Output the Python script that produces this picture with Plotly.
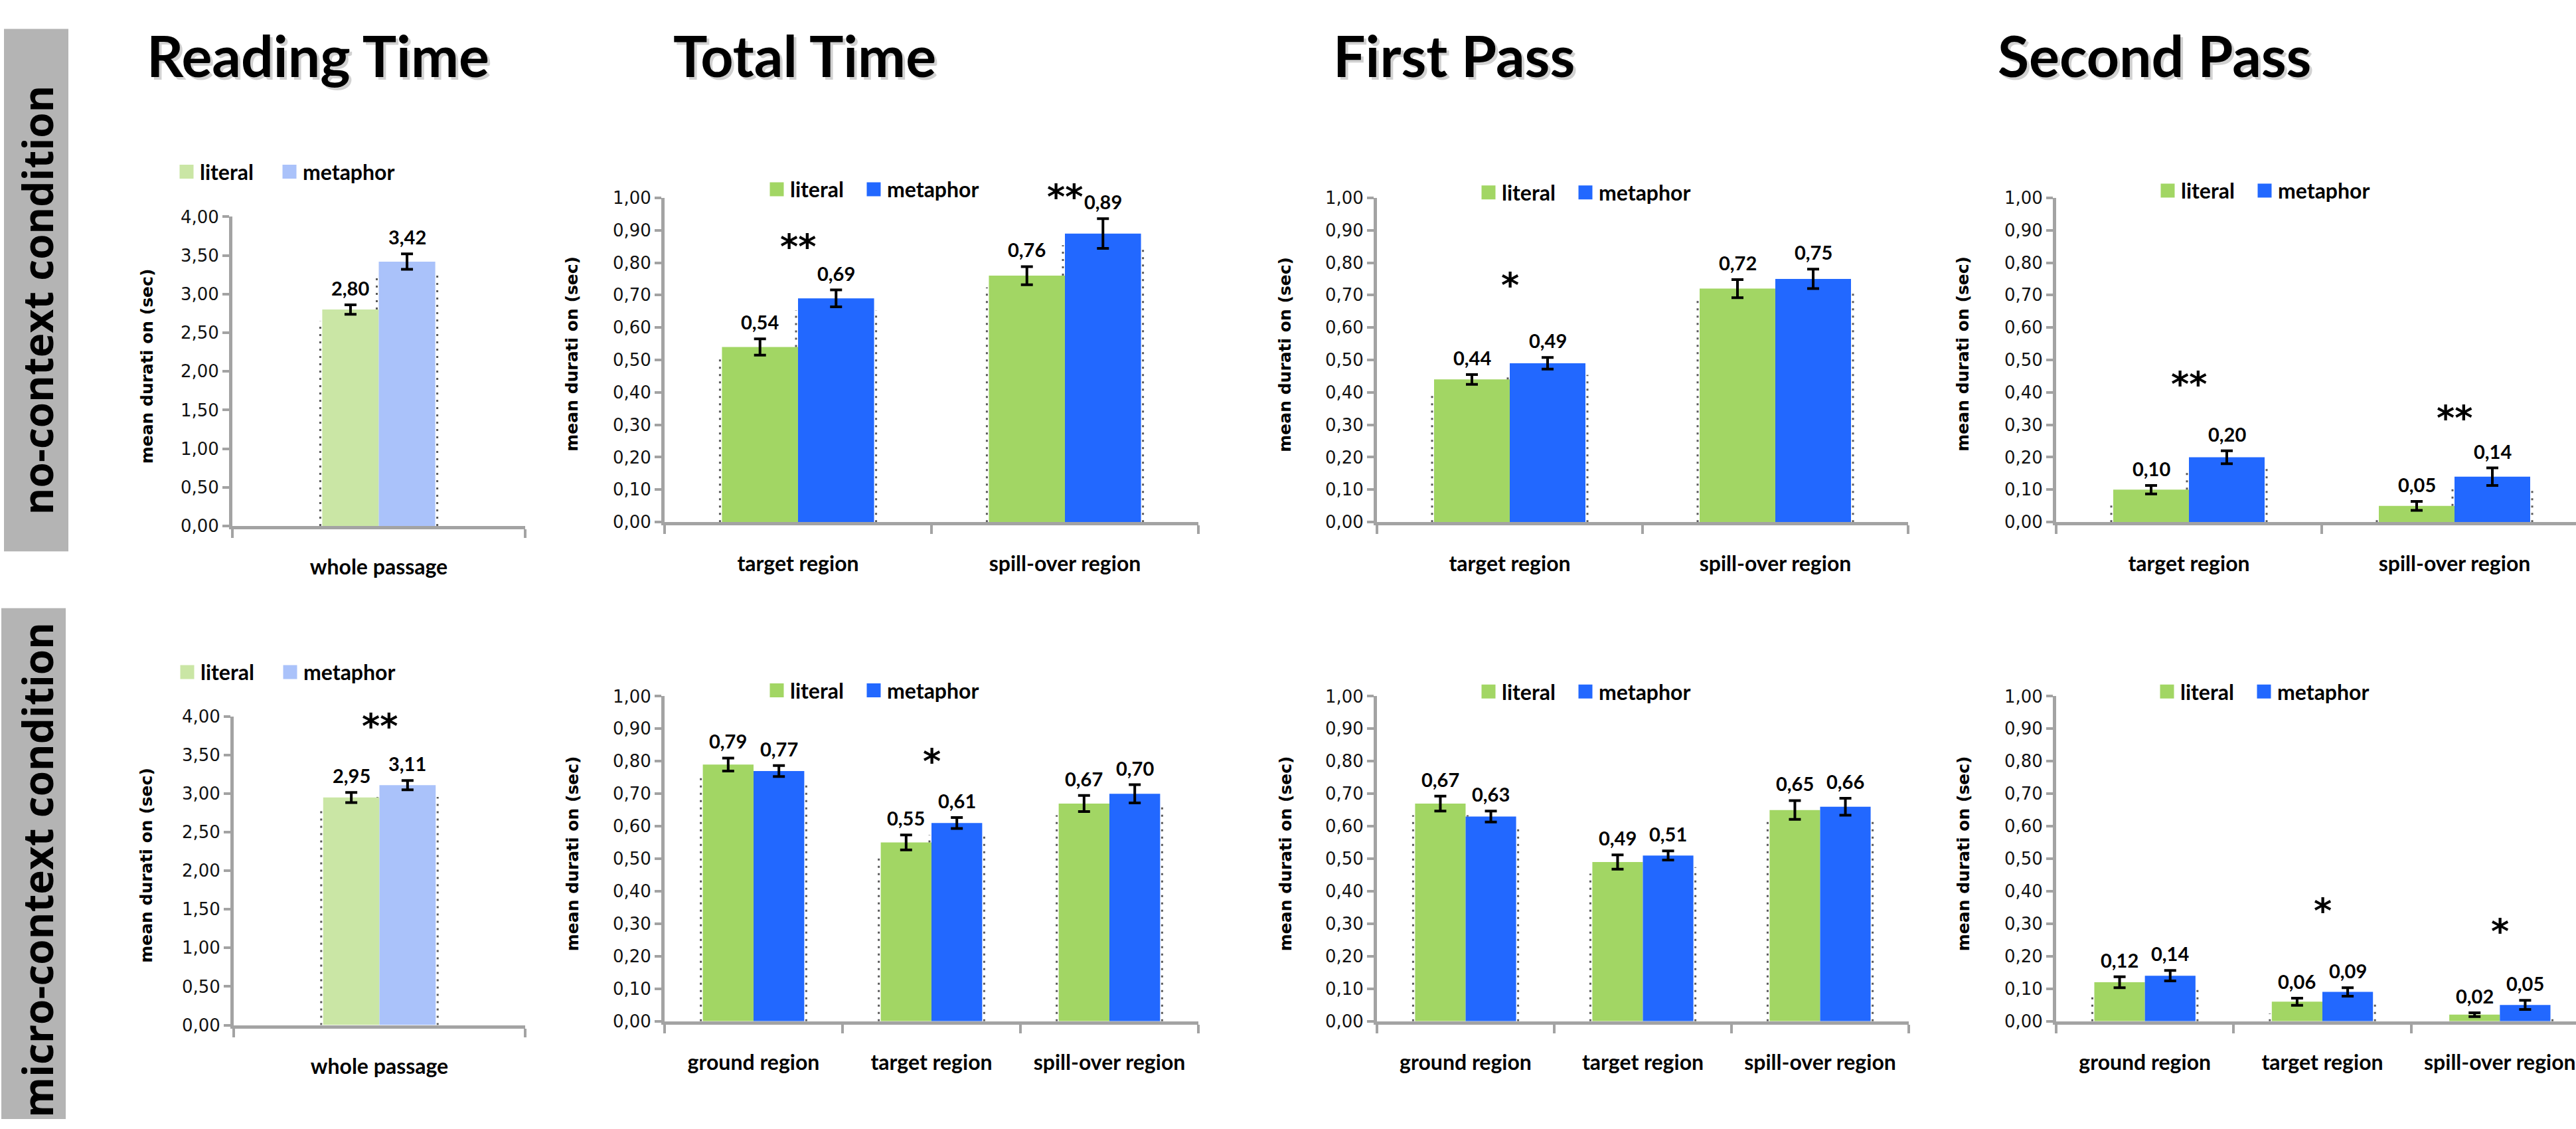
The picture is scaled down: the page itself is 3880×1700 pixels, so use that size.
import plotly.graph_objects as go

W, H = 3880, 1700

# ---------------- data ----------------
series_names = ["literal", "metaphor"]

rt_categories = ["whole passage"]
two_region_categories = ["target region", "spill-over region"]
three_region_categories = ["ground region", "target region", "spill-over region"]

# Reading Time (whole passage)
rt_nc_literal = [2.80]
rt_nc_metaphor = [3.42]
rt_nc_literal_err = [0.062]
rt_nc_metaphor_err = [0.100]
rt_mc_literal = [2.95]
rt_mc_metaphor = [3.11]
rt_mc_literal_err = [0.065]
rt_mc_metaphor_err = [0.060]

# Total Time
tt_nc_literal = [0.54, 0.76]
tt_nc_metaphor = [0.69, 0.89]
tt_nc_literal_err = [0.025, 0.028]
tt_nc_metaphor_err = [0.026, 0.046]
tt_mc_literal = [0.79, 0.55, 0.67]
tt_mc_metaphor = [0.77, 0.61, 0.70]
tt_mc_literal_err = [0.020, 0.023, 0.025]
tt_mc_metaphor_err = [0.017, 0.017, 0.028]

# First Pass
fp_nc_literal = [0.44, 0.72]
fp_nc_metaphor = [0.49, 0.75]
fp_nc_literal_err = [0.015, 0.028]
fp_nc_metaphor_err = [0.018, 0.030]
fp_mc_literal = [0.67, 0.49, 0.65]
fp_mc_metaphor = [0.63, 0.51, 0.66]
fp_mc_literal_err = [0.023, 0.022, 0.029]
fp_mc_metaphor_err = [0.017, 0.014, 0.026]

# Second Pass
sp_nc_literal = [0.10, 0.05]
sp_nc_metaphor = [0.20, 0.14]
sp_nc_literal_err = [0.013, 0.014]
sp_nc_metaphor_err = [0.020, 0.027]
sp_mc_literal = [0.12, 0.06, 0.02]
sp_mc_metaphor = [0.14, 0.09, 0.05]
sp_mc_literal_err = [0.017, 0.011, 0.006]
sp_mc_metaphor_err = [0.016, 0.013, 0.014]

# significance marks per panel: category index and label
rt_nc_sig = [(0, "**")]
rt_mc_sig = [(0, "**")]
tt_nc_sig = [(0, "**"), (1, "**")]
tt_mc_sig = [(1, "*")]
fp_nc_sig = [(0, "*")]
fp_mc_sig = []
sp_nc_sig = [(0, "**"), (1, "**")]
sp_mc_sig = [(1, "*"), (2, "*")]

column_titles = ["Reading Time", "Total Time", "First Pass", "Second Pass"]
row_labels = ["no-context condition", "micro-context condition"]
y_title = "mean durati on (sec)"

# ---------------- styles / layout ----------------
GRAY = "#a3a3a3"
GREEN = "#a2d664"
BLUE = "#2268ff"
GREEN_L = "#cae6a5"
BLUE_L = "#aac2fa"

TOP_Y = (288, 785)
BOT_Y = (1052, 1550)

panels = [
    dict(cats=rt_categories, lit=rt_nc_literal, met=rt_nc_metaphor, le=rt_nc_literal_err, me=rt_nc_metaphor_err,
         ymax=4.0, dtick=0.5, light=True, px=(350, 791), py=(317, 791), w=0.193,
         sig=rt_nc_sig, sig_y=[4.03], leg=(284, 248), pitch=155, ytitle=(221, 546)),
    dict(cats=two_region_categories, lit=tt_nc_literal, met=tt_nc_metaphor, le=tt_nc_literal_err, me=tt_nc_metaphor_err,
         ymax=1.0, dtick=0.1, light=False, px=(1001, 1805), py=TOP_Y, w=0.285,
         sig=tt_nc_sig, sig_y=[0.847, 1.0], leg=(1173, 275), pitch=146, ytitle=(862, 527)),
    dict(cats=two_region_categories, lit=fp_nc_literal, met=fp_nc_metaphor, le=fp_nc_literal_err, me=fp_nc_metaphor_err,
         ymax=1.0, dtick=0.1, light=False, px=(2074, 2874), py=TOP_Y, w=0.285,
         sig=fp_nc_sig, sig_y=[0.728], leg=(2245, 280), pitch=146, ytitle=(1936, 528)),
    dict(cats=two_region_categories, lit=sp_nc_literal, met=sp_nc_metaphor, le=sp_nc_literal_err, me=sp_nc_metaphor_err,
         ymax=1.0, dtick=0.1, light=False, px=(3097, 3897), py=TOP_Y, w=0.285,
         sig=sp_nc_sig, sig_y=[0.423, 0.318], leg=(3268, 277), pitch=146, ytitle=(2957, 527)),
    dict(cats=rt_categories, lit=rt_mc_literal, met=rt_mc_metaphor, le=rt_mc_literal_err, me=rt_mc_metaphor_err,
         ymax=4.0, dtick=0.5, light=True, px=(352, 791), py=(1083, 1556), w=0.193,
         sig=rt_mc_sig, sig_y=[3.86], leg=(285, 1015), pitch=155, ytitle=(221, 1311)),
    dict(cats=three_region_categories, lit=tt_mc_literal, met=tt_mc_metaphor, le=tt_mc_literal_err, me=tt_mc_metaphor_err,
         ymax=1.0, dtick=0.1, light=False, px=(1001, 1805), py=BOT_Y, w=0.285,
         sig=tt_mc_sig, sig_y=[0.796], leg=(1173, 1043), pitch=146, ytitle=(862, 1293)),
    dict(cats=three_region_categories, lit=fp_mc_literal, met=fp_mc_metaphor, le=fp_mc_literal_err, me=fp_mc_metaphor_err,
         ymax=1.0, dtick=0.1, light=False, px=(2074, 2875), py=BOT_Y, w=0.285,
         sig=fp_mc_sig, sig_y=[], leg=(2245, 1045), pitch=146, ytitle=(1936, 1293)),
    dict(cats=three_region_categories, lit=sp_mc_literal, met=sp_mc_metaphor, le=sp_mc_literal_err, me=sp_mc_metaphor_err,
         ymax=1.0, dtick=0.1, light=False, px=(3097, 3899), py=BOT_Y, w=0.285,
         sig=sp_mc_sig, sig_y=[0.336, 0.274], leg=(3267, 1045), pitch=146, ytitle=(2957, 1293)),
]

title_centers = [479, 1212, 2190, 3245]


def fmt(v):
    return f"{v:.2f}".replace(".", ",")


fig = go.Figure()
annotations = []
shapes = []
layout = dict(
    width=W, height=H, margin=dict(l=0, r=0, t=0, b=0, pad=0),
    paper_bgcolor="white", plot_bgcolor="white",
    barmode="overlay", separators=",.", showlegend=True, hovermode=False,
)

leg_count = 0
for k, p in enumerate(panels, start=1):
    xr = "x" if k == 1 else f"x{k}"
    yr = "y" if k == 1 else f"y{k}"
    xkey = "xaxis" if k == 1 else f"xaxis{k}"
    ykey = "yaxis" if k == 1 else f"yaxis{k}"
    n = len(p["cats"])
    x0, x1 = p["px"]
    y0, y1 = p["py"]
    x1c = min(x1, W)
    xend = -0.5 + n * (x1c - x0) / (x1 - x0)
    ppx = (x1 - x0) / n          # px per category
    ppy = (y1 - y0) / p["ymax"]  # px per value unit
    w = p["w"]
    cols = (GREEN_L, BLUE_L) if p["light"] else (GREEN, BLUE)
    xs = list(range(n))

    for name, vals, errs, off, col in [
        (series_names[0], p["lit"], p["le"], -w, cols[0]),
        (series_names[1], p["met"], p["me"], 0.0, cols[1]),
    ]:
        fig.add_trace(go.Bar(
            x=xs, y=vals, width=w, offset=off, marker=dict(color=col, line=dict(width=0)),
            error_y=dict(type="data", array=errs, color="black", thickness=4, width=9),
            xaxis=xr, yaxis=yr, showlegend=False, name=name,
        ))
        for i, (v, e) in enumerate(zip(vals, errs)):
            annotations.append(dict(
                x=i + off + w / 2, y=v + e, xref=xr, yref=yr, text=fmt(v), showarrow=False,
                yanchor="bottom", xanchor="center", yshift=6,
                font=dict(family="Lato", size=29, color="black", weight="bold"),
            ))

    # dotted outline artefacts along bar edges
    sh = 18 / ppy
    dx = 3 / ppx
    ox, oy = [], []
    for i in range(n):
        g, b = p["lit"][i], p["met"][i]
        segs = [(i - w - dx, 0, g - sh), (i + w + dx, 0, b - sh)]
        if b - sh > g:
            segs.append((i - dx, g, b - sh))
        if g - sh > b:
            segs.append((i + dx, b, g - sh))
        for xx, ya, yb in segs:
            if yb > ya:
                ox += [xx, xx, None]
                oy += [ya, yb, None]
    fig.add_trace(go.Scatter(x=ox, y=oy, mode="lines", xaxis=xr, yaxis=yr, showlegend=False,
                             line=dict(color="#5a5a5a", width=3, dash="3px,8px"), hoverinfo="skip"))

    # legend entries: one single-item legend per series so each can be placed exactly
    lx, ly = p["leg"]
    for j, (name, col) in enumerate(zip(series_names, cols)):
        leg_count += 1
        lkey = "legend" if leg_count == 1 else f"legend{leg_count}"
        fig.add_trace(go.Scatter(
            x=[None], y=[None], mode="markers", name=name, legend=lkey, xaxis=xr, yaxis=yr,
            marker=dict(symbol="square", size=16, color=col, line=dict(color=col, width=5)),
        ))
        layout[lkey] = dict(
            orientation="h", x=(lx + j * p["pitch"] - 23) / W, y=1 - ly / H,
            xanchor="left", yanchor="middle",
            font=dict(family="Lato", size=32, color="black", weight="bold"),
            bgcolor="rgba(0,0,0,0)", borderwidth=0,
            itemclick=False, itemdoubleclick=False,
        )

    # significance stars
    for (ci, lab), sy in zip(p["sig"], p["sig_y"]):
        annotations.append(dict(
            x=ci, y=sy, xref=xr, yref=yr, text=lab, showarrow=False, yanchor="middle",
            xanchor="center", yshift=2,
            font=dict(family="DejaVu Sans", size=52, color="black", weight="bold"),
        ))

    # y-axis title
    tx, ty = p["ytitle"]
    annotations.append(dict(
        x=tx / W, y=1 - ty / H, xref="paper", yref="paper", text=y_title, showarrow=False,
        textangle=-90, xanchor="center", yanchor="middle",
        font=dict(family="DejaVu Sans", size=25, color="black", weight="bold"),
    ))

    layout[xkey] = dict(
        domain=[x0 / W, x1c / W], range=[-0.5, xend], anchor=yr, tickmode="array",
        tickvals=xs, ticktext=p["cats"], ticks="", showline=True, linecolor=GRAY, linewidth=5,
        showgrid=False, zeroline=False, fixedrange=True, ticklabelstandoff=30,
        tickfont=dict(family="Lato", size=32, color="black", weight="bold"),
        minor=dict(tick0=-0.5, dtick=1, ticks="outside", ticklen=13, tickwidth=4, tickcolor=GRAY),
    )
    layout[ykey] = dict(
        domain=[1 - y1 / H, 1 - y0 / H], range=[0, p["ymax"]], anchor=xr, tick0=0, dtick=p["dtick"],
        tickformat=".2f", ticks="outside", ticklen=10, tickwidth=4, tickcolor=GRAY,
        showline=True, linecolor=GRAY, linewidth=5, showgrid=False, zeroline=False, fixedrange=True,
        tickfont=dict(family="DejaVu Sans", size=26, color="#111111"),
    )

# column titles with soft shadow
for t, cx in zip(column_titles, title_centers):
    for col, xs_, ys_ in [("rgba(0,0,0,0.18)", 4, -4), ("black", 0, 0)]:
        annotations.append(dict(
            x=cx / W, y=1 - 123 / H, xref="paper", yref="paper", text=t, showarrow=False,
            xanchor="center", yanchor="bottom", xshift=xs_, yshift=ys_,
            font=dict(family="Lato", size=86, color=col, weight="bold"),
        ))

# row label boxes
boxes = [(6, 103, 29, 830, 445), (2, 99, 917, 1700, 1318)]
for (bx0, bx1, by0, by1, tcy), lab in zip(boxes, row_labels):
    shapes.append(dict(type="rect", xref="paper", yref="paper", x0=bx0 / W, x1=bx1 / W,
                       y0=1 - by1 / H, y1=1 - by0 / H, fillcolor="#b4b4b4", line=dict(width=0),
                       layer="below"))
    annotations.append(dict(
        x=56 / W, y=1 - tcy / H, xref="paper", yref="paper", text=lab, showarrow=False,
        textangle=-90, xanchor="center", yanchor="middle",
        font=dict(family="Open Sans", size=62, color="black", weight="bold"),
    ))

layout["annotations"] = annotations
layout["shapes"] = shapes
fig.update_layout(**layout)
fig.write_html("out.html", config=dict(displayModeBar=False))
